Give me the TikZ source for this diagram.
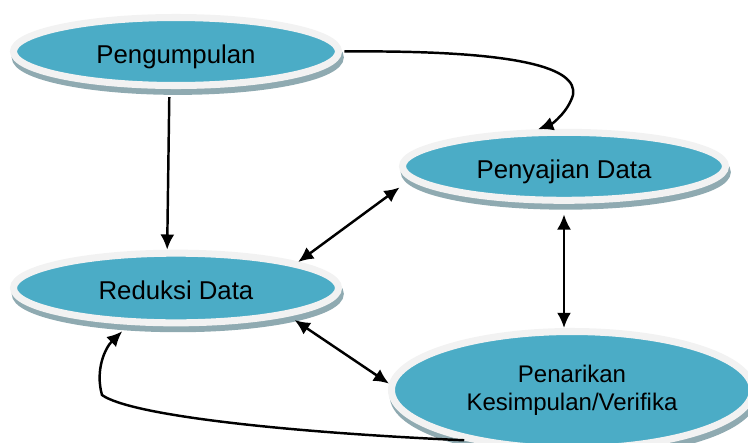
\documentclass[tikz,border=0pt]{standalone}
\usepackage{fontspec}
\setmainfont{Liberation Sans}
\usetikzlibrary{shapes.geometric,shadows,arrows.meta}
\definecolor{tahapblue}{RGB}{75,172,198}
\definecolor{tahapring}{RGB}{242,242,242}
\definecolor{tahapshadow}{RGB}{143,170,177}
\begin{document}
\begin{tikzpicture}[x=0.03cm,y=-0.03cm,
    tahap/.style={ellipse,fill=tahapblue,draw=tahapring,line width=6pt,inner sep=0pt,
      shadow xshift=1.5pt,shadow yshift=-5pt,
      general shadow={fill=tahapshadow,draw=tahapshadow,line width=6pt}},
    tahapsatu/.style={tahap,font=\fontsize{22}{26}\selectfont,text height=24pt,text depth=3.6pt},
    panah/.style={line width=2.1pt,-{Latex[length=13pt,width=12pt]}},
    duapanah/.style={line width=2.1pt,{Latex[length=13pt,width=12pt]}-{Latex[length=13pt,width=12pt]}}]
  \useasboundingbox (0,0) rectangle (748,442);

  % Drawing ellipse Pengumpulan
  \node [tahapsatu,minimum width=9.75cm,minimum height=2.04cm] (kumpul) at (176,51.5) {Pengumpulan};%

  % Drawing ellipse Penyajian Data
  \node [tahapsatu,minimum width=9.69cm,minimum height=2.04cm] (sajian) at (564,166.3) {Penyajian Data};%

  % Drawing ellipse Reduksi Data
  \node [tahapsatu,minimum width=9.75cm,minimum height=2.09cm] (reduksi) at (176,288) {Reduksi Data};%

  % Drawing ellipse Penarikan
  \node [tahap,minimum width=10.83cm,minimum height=3.51cm,align=center,
    font=\fontsize{20.5}{24}\selectfont] (tarik) at (572,390) {Penarikan\\Kesimpulan/Verifika};%

  % Drawing arrow kumpul sajian
  \draw [panah,shorten <=2pt] (kumpul.east) .. controls (520,50) and (578,68) .. (573,95)
    .. controls (568,112) and (552,124) .. (sajian.125);%

  % Drawing arrow kumpul reduksi
  \draw [panah,shorten <=7pt] (kumpul.260) -- (reduksi.103);%

  % Drawing arrow reduksi sajian
  \draw [duapanah,shorten >=11pt] (reduksi.12) -- (sajian.185);%

  % Drawing arrow sajian tarik
  \draw [duapanah,shorten <=9pt] (sajian.south) -- (sajian.south |- tarik.north);%

  % Drawing arrow reduksi tarik
  \draw [duapanah,shorten <=6pt] (reduksi.-14) -- (tarik.178);%

  % Drawing arrow tarik reduksi
  \draw [panah,shorten >=8pt] (tarik.205) .. controls (280,432) and (130,415) .. (102,395)
    .. controls (95,370) and (105,348) .. (reduksi.218);%
\end{tikzpicture}
\end{document}
